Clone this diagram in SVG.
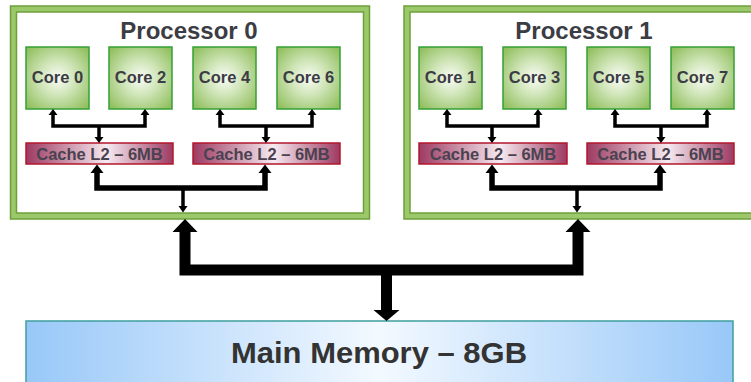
<svg xmlns="http://www.w3.org/2000/svg" width="751" height="382" viewBox="0 0 751 382">
<defs>
<radialGradient id="gCore" cx="50%" cy="50%" r="65%">
<stop offset="0" stop-color="#fafcf6"/>
<stop offset="0.4" stop-color="#d3e7bd"/>
<stop offset="1" stop-color="#92c060"/>
</radialGradient>
<linearGradient id="gCache" x1="0" y1="0" x2="1" y2="0">
<stop offset="0" stop-color="#9e3a62"/>
<stop offset="0.55" stop-color="#f6eaf0"/>
<stop offset="1" stop-color="#9e3a62"/>
</linearGradient>
<linearGradient id="gMem" x1="0" y1="0" x2="1" y2="0">
<stop offset="0" stop-color="#98c8f8"/>
<stop offset="0.5" stop-color="#f3f9ff"/>
<stop offset="1" stop-color="#98c8f8"/>
</linearGradient>
<style>
.procO{fill:#fff;stroke:#6f9f3c;stroke-width:7.5}
.procI{fill:none;stroke:#9bc868;stroke-width:4.5}
.core{fill:url(#gCore);stroke:#34a034;stroke-width:1.5}
.cache{fill:url(#gCache);stroke:#b3172b;stroke-width:1.5}
.mem{fill:url(#gMem);stroke:#3e9f9f;stroke-width:1.5}
text{font-family:"Liberation Sans",Arial,sans-serif;font-weight:bold;text-anchor:middle;fill:#3c3c44}
.title{font-size:24px}
.ct{font-size:16.5px}
.cat{font-size:16.5px;fill:#4a4250}
.mt{font-size:30px;fill:#333}
.w3{fill:none;stroke:#000;stroke-width:3.5}
.w5{fill:none;stroke:#000;stroke-width:5.5}
.w11{fill:none;stroke:#000;stroke-width:11}
.h{fill:#000}
</style>
</defs>

<g id="processor0">
<rect class="procO" x="13.5" y="9" width="353" height="207"/>
<rect class="procI" x="13.5" y="9" width="353" height="207"/>
<text class="title" x="189" y="39">Processor 0</text>
</g>
<g id="processor1">
<rect class="procO" x="407" y="9" width="400" height="207"/>
<rect class="procI" x="407" y="9" width="400" height="207"/>
<text class="title" x="584" y="39">Processor 1</text>
</g>

<g id="core0"><rect class="core" x="26" y="47" width="63" height="62"/><text class="ct" x="57.5" y="83">Core 0</text></g>
<g id="core2"><rect class="core" x="109" y="47" width="63" height="62"/><text class="ct" x="140.5" y="83">Core 2</text></g>
<g id="core4"><rect class="core" x="193" y="47" width="63" height="62"/><text class="ct" x="224.5" y="83">Core 4</text></g>
<g id="core6"><rect class="core" x="277" y="47" width="63" height="62"/><text class="ct" x="308.5" y="83">Core 6</text></g>
<g id="core1"><rect class="core" x="419" y="47" width="63" height="62"/><text class="ct" x="450.5" y="83">Core 1</text></g>
<g id="core3"><rect class="core" x="503" y="47" width="63" height="62"/><text class="ct" x="534.5" y="83">Core 3</text></g>
<g id="core5"><rect class="core" x="587" y="47" width="63" height="62"/><text class="ct" x="618.5" y="83">Core 5</text></g>
<g id="core7"><rect class="core" x="671" y="47" width="63" height="62"/><text class="ct" x="702.5" y="83">Core 7</text></g>

<g id="cache0a"><rect class="cache" x="26" y="143" width="147" height="21"/><text class="cat" x="99.5" y="159.5">Cache L2 – 6MB</text></g>
<g id="cache0b"><rect class="cache" x="193" y="143" width="147" height="21"/><text class="cat" x="266.5" y="159.5">Cache L2 – 6MB</text></g>
<g id="cache1a"><rect class="cache" x="419" y="143" width="148" height="21"/><text class="cat" x="493" y="159.5">Cache L2 – 6MB</text></g>
<g id="cache1b"><rect class="cache" x="587" y="143" width="147" height="21"/><text class="cat" x="660.5" y="159.5">Cache L2 – 6MB</text></g>

<g id="memory"><rect class="mem" x="26" y="321" width="707" height="70"/><text class="mt" x="379" y="363" textLength="296" lengthAdjust="spacingAndGlyphs">Main Memory – 8GB</text></g>

<g id="connectors">
<path class="w3" d="M53,114 V126 H145 V114 M99,126 V138"/>
<path class="h" d="M48.5,115 H57.5 L53,109 Z M140.5,115 H149.5 L145,109 Z M94.5,137 H103.5 L99,143 Z"/>
<path class="w3" d="M220,114 V126 H312 V114 M266,126 V138"/>
<path class="h" d="M215.5,115 H224.5 L220,109 Z M307.5,115 H316.5 L312,109 Z M261.5,137 H270.5 L266,143 Z"/>
<path class="w3" d="M447,114 V126 H538 V114 M492,126 V138"/>
<path class="h" d="M442.5,115 H451.5 L447,109 Z M533.5,115 H542.5 L538,109 Z M487.5,137 H496.5 L492,143 Z"/>
<path class="w3" d="M615,114 V126 H707 V114 M661,126 V138"/>
<path class="h" d="M610.5,115 H619.5 L615,109 Z M702.5,115 H711.5 L707,109 Z M656.5,137 H665.5 L661,143 Z"/>

<path class="w5" d="M97,172 V188 H265 V172"/>
<path class="w3" d="M183,188 V207"/>
<path class="h" d="M90.5,173 H103.5 L97,164.5 Z M258.5,173 H271.5 L265,164.5 Z M178.5,206 H187.5 L183,212.5 Z"/>
<path class="w5" d="M492,172 V188 H660 V172"/>
<path class="w3" d="M577,188 V207"/>
<path class="h" d="M485.5,173 H498.5 L492,164.5 Z M653.5,173 H666.5 L660,164.5 Z M572.5,206 H581.5 L577,212.5 Z"/>

<path class="w11" d="M185,231 V270 H578 V231" stroke-linejoin="miter"/>
<path class="w11" d="M386.5,270 V311"/>
<path class="h" d="M172.5,232 H197.5 L185,219 Z M565.5,232 H590.5 L578,219 Z M373.5,310 H399.5 L386.5,321 Z"/>
</g>
</svg>
